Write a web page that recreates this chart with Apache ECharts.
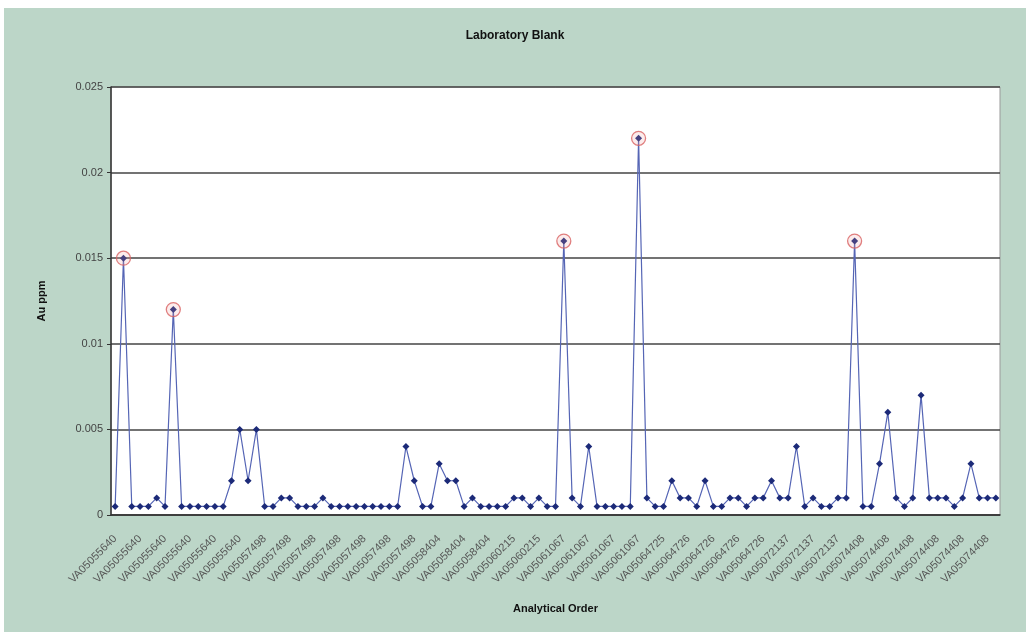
<!DOCTYPE html>
<html>
<head>
<meta charset="utf-8">
<script src="https://cdn.jsdelivr.net/npm/echarts@6/dist/echarts.min.js"></script>
<style>
    html, body { margin: 0; padding: 0; background: #fff; }
    #chart { position: absolute; left: 4px; top: 8px; width: 1022px; height: 624px; }
</style>
</head>
<body>
<div id="chart"></div>
<script>
// sample batches in analytical order, and how many blanks each one has
const batchIds = ['VA05055640', 'VA05057498', 'VA05058404', 'VA05060215', 'VA05061067',
    'VA05064725', 'VA05064726', 'VA05072137', 'VA05074408'];
const batchCounts = [18, 21, 9, 6, 12, 3, 12, 9, 17];

// Au ppm of each blank
const auPpm = [
    0.0005, 0.015, 0.0005, 0.0005, 0.0005, 0.001, 0.0005, 0.012, 0.0005, 0.0005,
    0.0005, 0.0005, 0.0005, 0.0005, 0.002, 0.005, 0.002, 0.005, 0.0005, 0.0005,
    0.001, 0.001, 0.0005, 0.0005, 0.0005, 0.001, 0.0005, 0.0005, 0.0005, 0.0005,
    0.0005, 0.0005, 0.0005, 0.0005, 0.0005, 0.004, 0.002, 0.0005, 0.0005, 0.003,
    0.002, 0.002, 0.0005, 0.001, 0.0005, 0.0005, 0.0005, 0.0005, 0.001, 0.001,
    0.0005, 0.001, 0.0005, 0.0005, 0.016, 0.001, 0.0005, 0.004, 0.0005, 0.0005,
    0.0005, 0.0005, 0.0005, 0.022, 0.001, 0.0005, 0.0005, 0.002, 0.001, 0.001,
    0.0005, 0.002, 0.0005, 0.0005, 0.001, 0.001, 0.0005, 0.001, 0.001, 0.002,
    0.001, 0.001, 0.004, 0.0005, 0.001, 0.0005, 0.0005, 0.001, 0.001, 0.016,
    0.0005, 0.0005, 0.003, 0.006, 0.001, 0.0005, 0.001, 0.007, 0.001, 0.001,
    0.001, 0.0005, 0.001, 0.003, 0.001, 0.001, 0.001
];

// blanks above this get a red circle
const flagLimit = 0.01;

let categories = [];
batchIds.forEach((id, i) => {
    for (let k = 0; k < batchCounts[i]; k++) categories.push(id);
});

const font = "'Liberation Sans', Arial, sans-serif";
const chart = echarts.init(document.getElementById('chart'));

chart.setOption({
    backgroundColor: '#bcd6c8',
    animation: false,
    title: {
        text: 'Laboratory Blank',
        left: 'center',
        top: 17,
        textStyle: { fontFamily: font, fontSize: 12, fontWeight: 'bold', color: '#111' }
    },
    grid: {
        left: 107, right: 26, top: 79, bottom: 117,
        show: true, backgroundColor: '#fff', borderColor: '#999', borderWidth: 1
    },
    xAxis: {
        type: 'category',
        data: categories,
        boundaryGap: true,
        name: 'Analytical Order',
        nameLocation: 'middle',
        nameGap: 88,
        nameTextStyle: { fontFamily: font, fontSize: 11, fontWeight: 'bold', color: '#111' },
        axisLine: { lineStyle: { color: '#333', width: 1.5 } },
        axisTick: { interval: 0, length: 4, lineStyle: { color: '#333' } },
        axisLabel: {
            interval: 2, rotate: 45, margin: 22,
            fontFamily: font, fontSize: 11, color: '#555'
        },
        splitLine: { show: false }
    },
    yAxis: {
        type: 'value',
        min: 0, max: 0.025, interval: 0.005,
        name: 'Au ppm',
        nameLocation: 'middle',
        nameGap: 64,
        nameTextStyle: { fontFamily: font, fontSize: 11, fontWeight: 'bold', color: '#111' },
        axisLine: { show: true, lineStyle: { color: '#333', width: 1.5 } },
        axisTick: { show: true, length: 4, lineStyle: { color: '#333' } },
        axisLabel: { fontFamily: font, fontSize: 11, color: '#444', margin: 8 },
        splitLine: { lineStyle: { color: '#444', width: 1.5 } }
    },
    series: [
        {
            type: 'line',
            data: auPpm,
            showAllSymbol: true,
            symbol: 'diamond',
            symbolSize: 7,
            lineStyle: { color: '#5565b5', width: 1.2 },
            itemStyle: { color: '#1c2a78' },
            z: 3
        },
        {
            type: 'scatter',
            data: auPpm.map(v => v > flagLimit ? v : null),
            symbol: 'circle',
            symbolSize: 14,
            itemStyle: { color: 'rgba(240,160,160,0.25)', borderColor: '#d86060', borderWidth: 1.3 },
            z: 4
        }
    ]
});
</script>
</body>
</html>
